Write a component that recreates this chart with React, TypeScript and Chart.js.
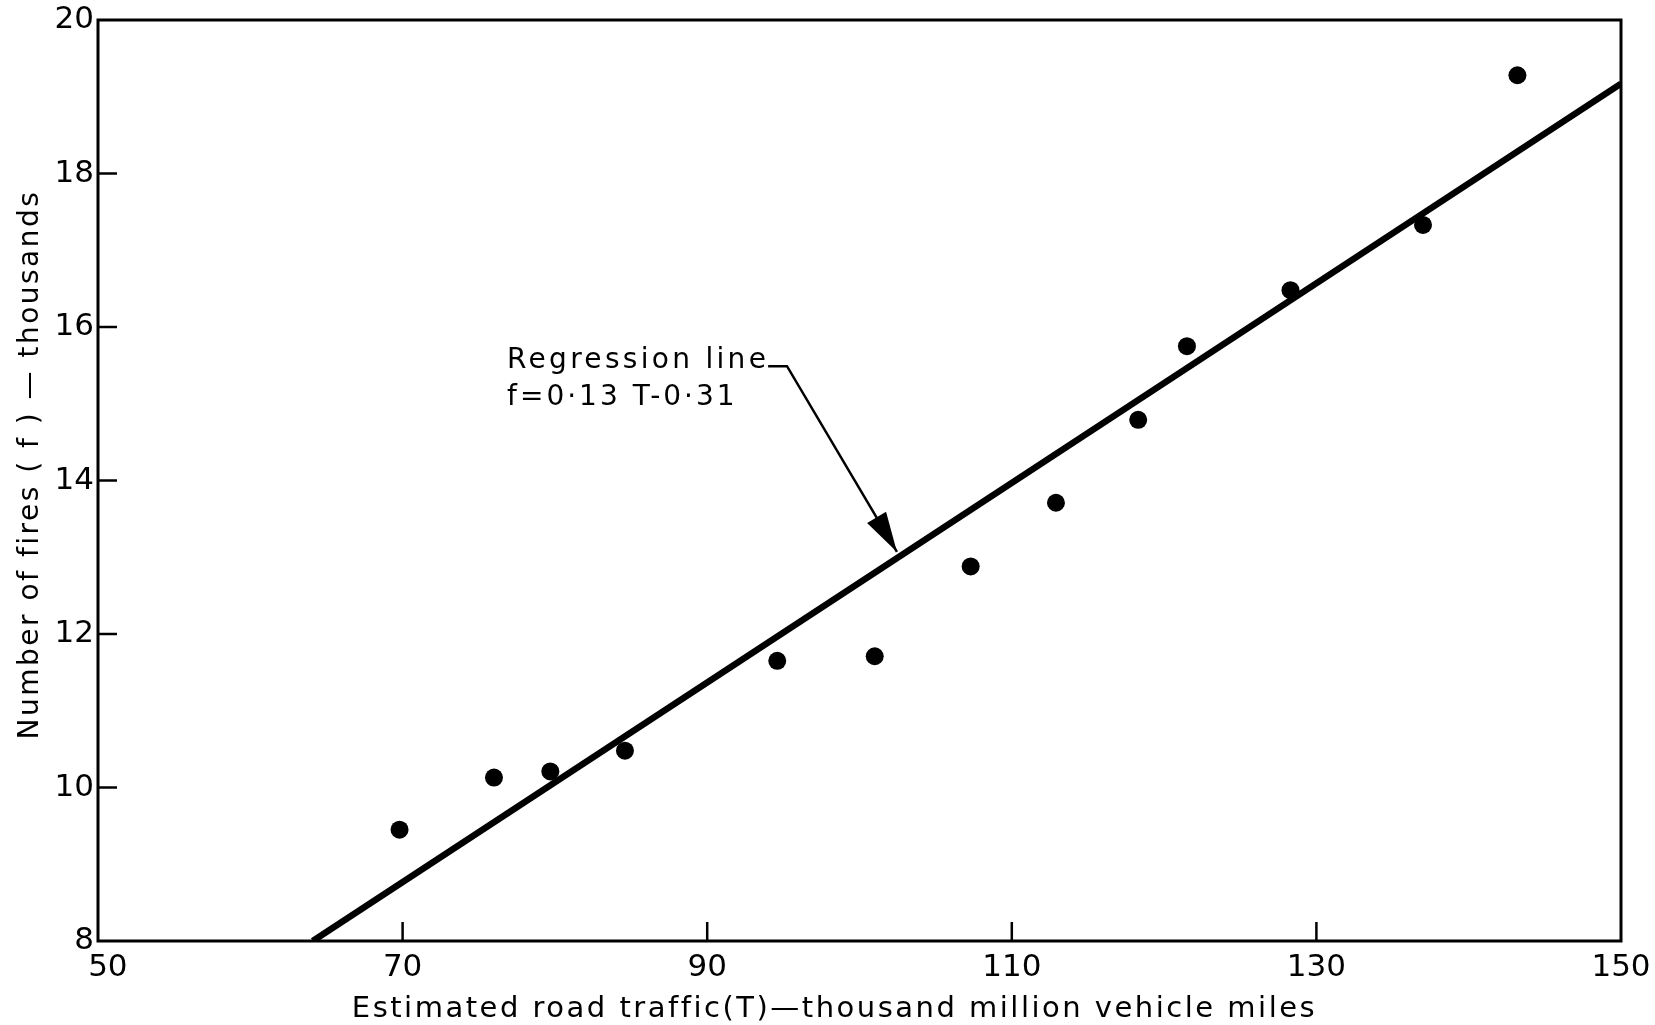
import React, { useEffect, useRef } from "react";
import { Chart, registerables } from "chart.js";

Chart.register(...registerables);

// Observed data: estimated road traffic (T) vs number of fires (f)
const trafficT = [69.8, 76.0, 79.7, 84.6, 94.6, 101.0, 107.3, 112.9, 118.3, 121.5, 128.3, 137.0, 143.2];
const firesF = [9.45, 10.13, 10.21, 10.48, 11.65, 11.71, 12.88, 13.71, 14.79, 15.75, 16.48, 17.33, 19.28];

// Regression line end points as drawn
const regressionT = [64.1, 150];
const regressionF = [8.0, 19.17];

// Axis ticks
const xTicks = [50, 70, 90, 110, 130, 150];
const yTicks = [8, 10, 12, 14, 16, 18, 20];

const xTitle = "Estimated road traffic(T)\u2014thousand million vehicle miles";
const yTitle = "Number of fires ( f ) \u2014 thousands";
const noteLines = ["Regression line", "f=0\u00B713 T-0\u00B731"];
// annotation anchor in data units
const noteT = 76.86;
const noteF = [15.47, 14.99];
const arrowT = [94.0, 95.24, 102.46];
const arrowF = [15.49, 15.49, 13.07];

const FONT = '"DejaVu Sans", "Liberation Sans", sans-serif';

const overlay = {
  id: "overlay",
  afterDraw(chart: any) {
    const { ctx, chartArea: ca, scales } = chart;
    const xs = scales.x;
    const ys = scales.y;
    ctx.save();
    ctx.strokeStyle = "#000";
    ctx.fillStyle = "#000";

    // frame
    ctx.lineWidth = 3;
    ctx.strokeRect(ca.left, ca.top, ca.right - ca.left, ca.bottom - ca.top);

    // inward ticks
    ctx.lineWidth = 2.5;
    const tickLen = 19;
    xTicks.forEach((v) => {
      if (v === xTicks[0] || v === xTicks[xTicks.length - 1]) return;
      const px = xs.getPixelForValue(v);
      ctx.beginPath();
      ctx.moveTo(px, ca.bottom);
      ctx.lineTo(px, ca.bottom - tickLen);
      ctx.stroke();
    });
    yTicks.forEach((v) => {
      if (v === yTicks[0] || v === yTicks[yTicks.length - 1]) return;
      const py = ys.getPixelForValue(v);
      ctx.beginPath();
      ctx.moveTo(ca.left, py);
      ctx.lineTo(ca.left + tickLen, py);
      ctx.stroke();
    });

    // annotation text
    ctx.font = `28px ${FONT}`;
    ctx.textAlign = "left";
    ctx.textBaseline = "alphabetic";
    const spacing = ["3.3px", "3px"];
    noteLines.forEach((t, i) => {
      (ctx as any).letterSpacing = spacing[i];
      ctx.fillText(t, xs.getPixelForValue(noteT), ys.getPixelForValue(noteF[i]));
    });

    // arrow
    (ctx as any).letterSpacing = "0px";
    ctx.lineWidth = 2.5;
    ctx.beginPath();
    arrowT.forEach((t, i) => {
      const px = xs.getPixelForValue(t);
      const py = ys.getPixelForValue(arrowF[i]);
      if (i === 0) ctx.moveTo(px, py);
      else ctx.lineTo(px, py);
    });
    ctx.stroke();
    const n = arrowT.length;
    const tx = xs.getPixelForValue(arrowT[n - 1]);
    const ty = ys.getPixelForValue(arrowF[n - 1]);
    const sx = xs.getPixelForValue(arrowT[n - 2]);
    const sy = ys.getPixelForValue(arrowF[n - 2]);
    const ang = Math.atan2(ty - sy, tx - sx);
    const hl = 40;
    const hw = 11;
    const bx = tx - hl * Math.cos(ang);
    const by = ty - hl * Math.sin(ang);
    ctx.beginPath();
    ctx.moveTo(tx, ty);
    ctx.lineTo(bx + hw * Math.sin(ang), by - hw * Math.cos(ang));
    ctx.lineTo(bx - hw * Math.sin(ang), by + hw * Math.cos(ang));
    ctx.closePath();
    ctx.fill();

    // axis titles
    ctx.font = `29px ${FONT}`;
    (ctx as any).letterSpacing = "2.5px";
    ctx.textAlign = "center";
    ctx.textBaseline = "alphabetic";
    ctx.fillText(xTitle, (ca.left + ca.right) / 2 - 25, ca.bottom + 76);

    ctx.font = `28px ${FONT}`;
    ctx.translate(31, (ca.top + ca.bottom) / 2 - 16);
    ctx.rotate(-Math.PI / 2);
    ctx.textBaseline = "middle";
    ctx.fillText(yTitle, 0, 0);
    ctx.restore();
  },
};

export default function App() {
  const ref = useRef<HTMLCanvasElement | null>(null);

  useEffect(() => {
    if (!ref.current) return;
    const chart = new Chart(ref.current, {
      type: "scatter",
      data: {
        datasets: [
          {
            type: "line",
            label: "Regression line",
            data: regressionT.map((t, i) => ({ x: t, y: regressionF[i] })),
            borderColor: "#000",
            borderWidth: 6.5,
            pointRadius: 0,
            fill: false,
            tension: 0,
          } as any,
          {
            type: "scatter",
            label: "Observed",
            data: trafficT.map((t, i) => ({ x: t, y: firesF[i] })),
            backgroundColor: "#000",
            borderColor: "#000",
            borderWidth: 0,
            pointRadius: 9,
          },
        ],
      },
      options: {
        animation: false,
        responsive: false,
        devicePixelRatio: 1,
        layout: { padding: { top: 20, right: 34, left: 0, bottom: 0 } },
        plugins: {
          legend: { display: false },
          tooltip: { enabled: false },
          title: { display: false },
        },
        scales: {
          x: {
            type: "linear",
            min: 50,
            max: 150,
            grid: { display: false, drawTicks: false },
            border: { display: false },
            afterBuildTicks: (s: any) => {
              s.ticks = xTicks.map((v) => ({ value: v }));
            },
            afterFit: (s: any) => {
              s.height = 84;
              s.paddingLeft = 0;
              s.paddingRight = 0;
            },
            ticks: {
              color: "#000",
              padding: 8,
              maxRotation: 0,
              autoSkip: false,
              font: { family: FONT, size: 31 },
              callback: (v: any) => (v === xTicks[0] ? "  " + v : String(v)),
            },
          },
          y: {
            type: "linear",
            min: 8,
            max: 20,
            grid: { display: false, drawTicks: false },
            border: { display: false },
            afterBuildTicks: (s: any) => {
              s.ticks = yTicks.map((v) => ({ value: v }));
            },
            afterFit: (s: any) => {
              s.width = 98;
              s.paddingTop = 0;
              s.paddingBottom = 0;
            },
            ticks: {
              color: "#000",
              padding: 4,
              autoSkip: false,
              font: { family: FONT, size: 31 },
            },
          },
        },
      },
      plugins: [overlay],
    });
    return () => chart.destroy();
  }, []);

  return (
    <div style={{ position: "fixed", left: 0, top: 0, width: 1655, height: 1025, background: "#fff" }}>
      <canvas ref={ref} width={1655} height={1025} style={{ display: "block" }} />
    </div>
  );
}
